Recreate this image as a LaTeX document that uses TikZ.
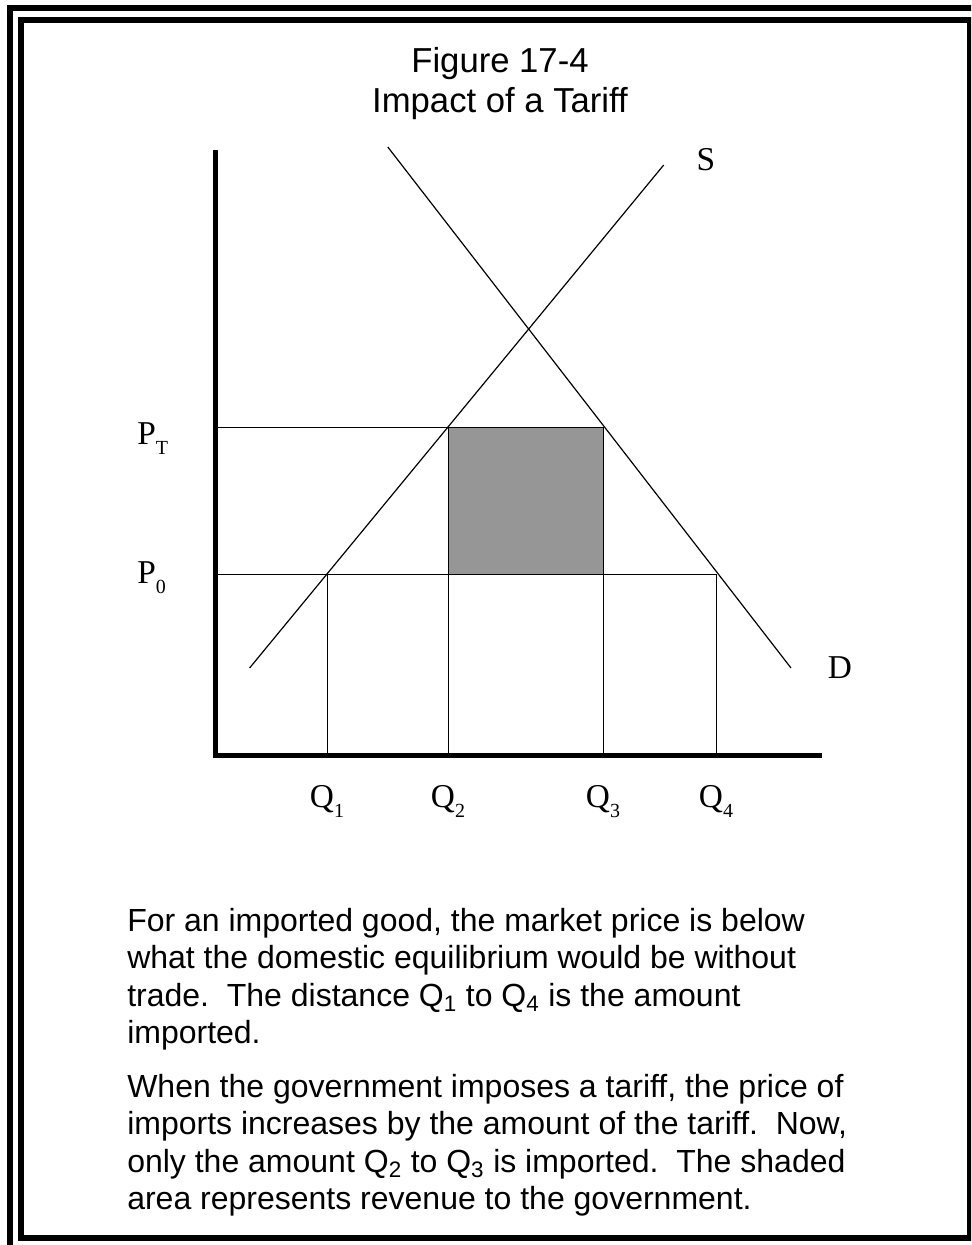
\documentclass[tikz,border=0pt]{standalone}
\usepackage{fontspec}
\setmainfont{Liberation Sans}
\newfontfamily\timesfont{Liberation Serif}

\definecolor{tariffgray}{RGB}{150,150,150}
\newcommand{\lowsub}[1]{\raisebox{-0.3em}{\fontsize{15}{15}\selectfont #1}}

\begin{document}
\begin{tikzpicture}[x=0.75pt, y=-0.75pt, font=\fontsize{24}{28.1}\selectfont]
  % Styles
  \tikzset{
    frame/.style={line width=4.5pt},
    axis/.style={line width=3.75pt},
    curve/.style={line width=0.9pt},
    guide/.style={line width=0.75pt},
    lab/.style={font=\timesfont\fontsize{25}{25}\selectfont, inner sep=0pt},
    body/.style={align=left, inner sep=0pt, anchor=north west}
  }
  \useasboundingbox (0,0) rectangle (971,1245);
  \clip (0,0) rectangle (971,1245);

  % Frame
  \draw[frame] (10,8) rectangle (990,1262);
  \draw[frame] (21,20) rectangle (970,1238);

  % Title
  \node[align=center, inner sep=0pt, anchor=north, font=\fontsize{26}{30}\selectfont] (title) at (500,47) {Figure 17-4\\Impact of a Tariff};

  % Points
  \coordinate (o) at (215,755);
  \coordinate (ytop) at (215,150);
  \coordinate (xend) at (822,755);
  \coordinate (pt) at (215,427);
  \coordinate (p0) at (215,574);
  \coordinate (q1) at (327,755);
  \coordinate (q2) at (448,755);
  \coordinate (q3) at (603,755);
  \coordinate (q4) at (716,755);
  \coordinate (a) at (327,574);
  \coordinate (b) at (448,427);
  \coordinate (c) at (603,427);
  \coordinate (e) at (716,574);
  \coordinate (f) at (448,574);
  \coordinate (g) at (603,574);
  \coordinate (slow) at (249.6,668);
  \coordinate (shigh) at (663.7,165);
  \coordinate (dhigh) at (387.8,147);
  \coordinate (dlow) at (791,668);

  % Tariff revenue
  \filldraw[fill=tariffgray, guide] (b) rectangle (g);

  % Guides
  \draw[guide] (pt) -- (c);
  \draw[guide] (p0) -- (e);
  \draw[guide] (a) -- (q1);
  \draw[guide] (f) -- (q2);
  \draw[guide] (g) -- (q3);
  \draw[guide] (e) -- (q4);

  % Supply and demand
  \draw[curve] (slow) -- (shigh);
  \draw[curve] (dhigh) -- (dlow);

  % Axes
  \draw[axis] (ytop) -- (o) -- (xend);

  % Labels
  \node[lab] (slab) at (706,160) {S};
  \node[lab] (dlab) at (840,668) {D};
  \node[lab, anchor=base west] (ptlab) at (137,444) {P\lowsub{T}};
  \node[lab, anchor=base west] (p0lab) at (137,583) {P\lowsub{0}};
  \node[lab, anchor=base] (q1lab) at (327,807) {Q\lowsub{1}};
  \node[lab, anchor=base] (q2lab) at (448,807) {Q\lowsub{2}};
  \node[lab, anchor=base] (q3lab) at (603,807) {Q\lowsub{3}};
  \node[lab, anchor=base] (q4lab) at (716,807) {Q\lowsub{4}};

  % Text
  \node[body] (para1) at (127,908) {For an imported good, the market price is below\\what the domestic equilibrium would be without\\trade.\ \ The distance Q\textsubscript{1} to Q\textsubscript{4} is the amount\\imported.};
  \node[body] (para2) at (127,1074) {When the government imposes a tariff, the price of\\imports increases by the amount of the tariff.\ \ Now,\\only the amount Q\textsubscript{2} to Q\textsubscript{3} is imported.\ \ The shaded\\area represents revenue to the government.};
\end{tikzpicture}
\end{document}
